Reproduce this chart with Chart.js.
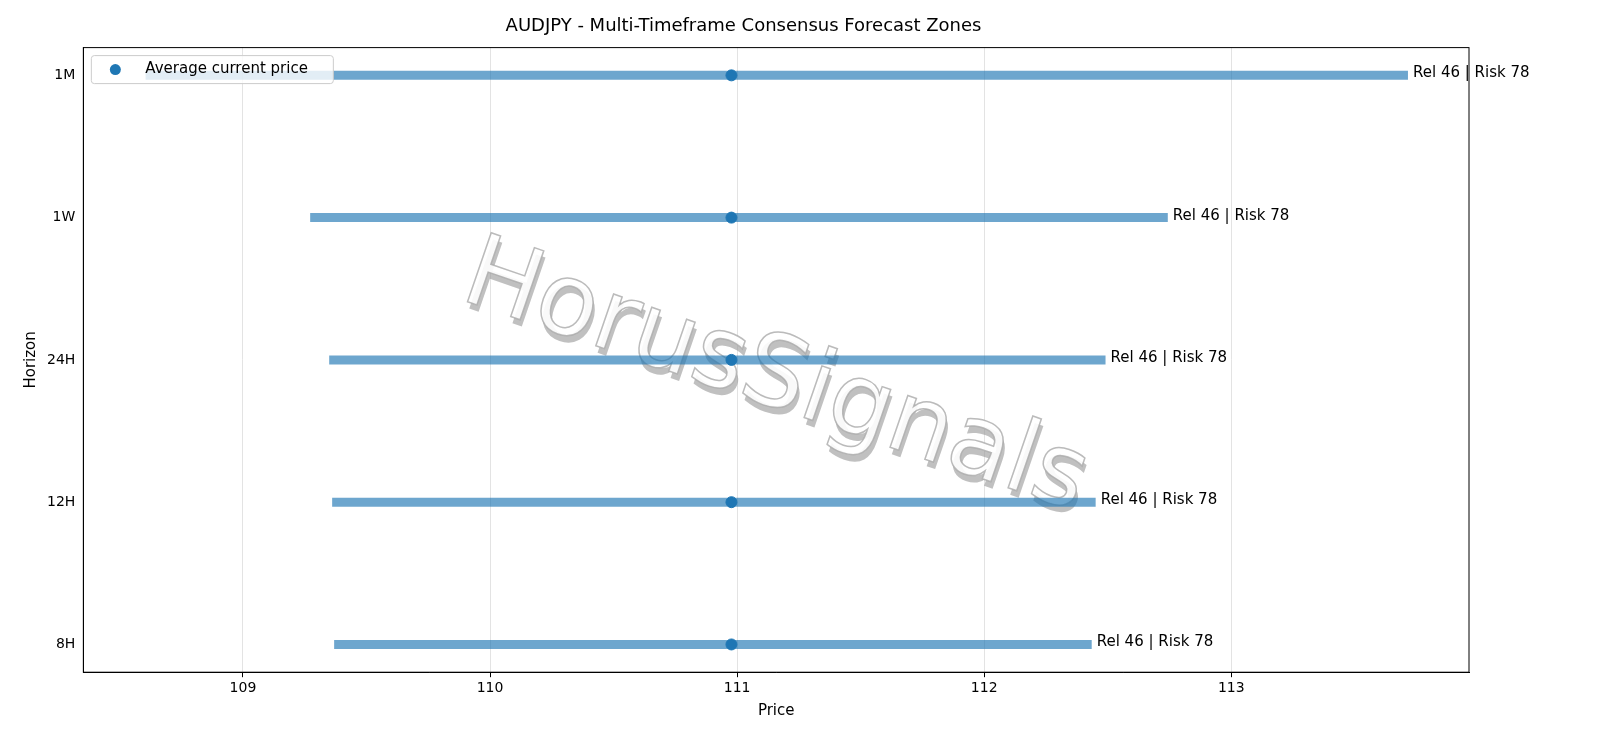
<!DOCTYPE html>
<html><head><meta charset="utf-8">
<script src="https://cdn.jsdelivr.net/npm/chart.js@4.4.0/dist/chart.umd.min.js"></script>
<style>html,body{margin:0;background:#fff}#w{width:1600px;height:738px}</style>
</head><body><div id="w"><canvas id="c"></canvas></div>
<script>
const horizons = ["8H","12H","24H","1W","1M"];
const lows = [109.369,109.361,109.349,109.272,108.606];
const highs = [112.435,112.451,112.491,112.743,113.715];
const currentPrice = [110.977,110.977,110.977,110.977,110.977];
const zoneLabels = ["Rel 46 | Risk 78","Rel 46 | Risk 78","Rel 46 | Risk 78","Rel 46 | Risk 78","Rel 46 | Risk 78"];
const xTicks = [109,110,111,112,113];

const BLUE = "#1f77b4";
const datasets = horizons.map((h,i)=>({
  label:"zone "+h, data:[{x:lows[i],y:i},{x:highs[i],y:i}],
  showLine:true, borderColor:"rgba(31,119,180,0.65)", borderWidth:9, pointRadius:0, borderCapStyle:"butt"
}));
datasets.push({label:"Average current price", data:currentPrice.map((v,i)=>({x:v,y:i})),
  showLine:false, pointRadius:5.5, backgroundColor:BLUE, borderColor:BLUE});

const deco = {
  id:"deco",
  beforeDatasetsDraw(ch){
    const {ctx}=ch;
    ctx.save();
    ctx.translate(775,380); ctx.rotate(19*Math.PI/180);
    ctx.font="100px 'DejaVu Sans'"; ctx.textAlign="center"; ctx.textBaseline="middle";
    ctx.lineWidth=1.5;
    ctx.fillStyle="rgba(150,150,150,0.6)"; ctx.fillText("HorusSignals",4,6);
    ctx.fillStyle="rgba(255,255,255,0.9)"; ctx.fillText("HorusSignals",0,0);
    ctx.strokeStyle="rgba(170,170,170,0.8)"; ctx.strokeText("HorusSignals",0,0);
    ctx.restore();
  },
  afterDatasetsDraw(ch){
    const {ctx,chartArea:a,scales:{x,y}}=ch;
    ctx.save();
    ctx.font="15px 'DejaVu Sans'"; ctx.fillStyle="#000"; ctx.textBaseline="middle";
    horizons.forEach((h,i)=>ctx.fillText(zoneLabels[i], x.getPixelForValue(highs[i])+5, y.getPixelForValue(i)-2));
    ctx.fillStyle="rgba(255,255,255,0.8)"; ctx.strokeStyle="#ccc"; ctx.lineWidth=1;
    const lx=a.left+8, ly=a.top+8;
    ctx.beginPath(); ctx.roundRect(lx,ly,242,28,3); ctx.fill(); ctx.stroke();
    ctx.fillStyle=BLUE; ctx.beginPath(); ctx.arc(lx+24,ly+14,5.5,0,2*Math.PI); ctx.fill();
    ctx.fillStyle="#000"; ctx.fillText("Average current price", lx+54, ly+14);
    ctx.strokeStyle="#000"; ctx.strokeRect(a.left,a.top,a.right-a.left,a.bottom-a.top);
    ctx.restore();
  }
};

new Chart(document.getElementById("c"),{
  type:"scatter", data:{datasets},
  options:{responsive:true,maintainAspectRatio:false,animation:false,
    layout:{padding:{left:18,right:131,top:6,bottom:14}},
    plugins:{legend:{display:false},tooltip:{enabled:false},
      title:{display:true,text:"AUDJPY - Multi-Timeframe Consensus Forecast Zones",color:"#000",font:{family:"DejaVu Sans",size:18,weight:"normal"},padding:{top:10,bottom:10}}},
    scales:{
      x:{min:108.354,max:113.962,afterBuildTicks:s=>{s.ticks=xTicks.map(v=>({value:v}));},
        ticks:{color:"#000",font:{family:"DejaVu Sans",size:14},callback:v=>v},
        grid:{color:"#e3e3e3",drawTicks:true,tickLength:5,tickColor:"#000"},border:{color:"#000"},
        title:{display:true,text:"Price",color:"#000",font:{family:"DejaVu Sans",size:15},padding:{top:2}}},
      y:{min:-0.195,max:4.195,afterBuildTicks:s=>{s.ticks=horizons.map((h,i)=>({value:i}));},
        ticks:{color:"#000",font:{family:"DejaVu Sans",size:14},callback:v=>horizons[v]},
        grid:{display:false,drawTicks:true,tickLength:5,tickColor:"#000"},border:{color:"#000"},
        title:{display:true,text:"Horizon",color:"#000",font:{family:"DejaVu Sans",size:15}}}
    }},
  plugins:[deco]
});
</script></body></html>
